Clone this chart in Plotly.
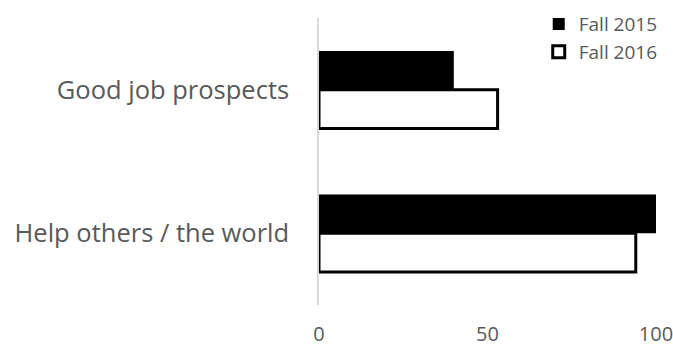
import plotly.graph_objects as go

categories = ["Good job prospects", "Help others / the world"]
fall_2015 = [40, 100]
fall_2016 = [53, 94]
x_ticks = [0, 50, 100]

FONT = "Open Sans"
GRAY = "#595959"

fig = go.Figure()
fig.add_trace(go.Bar(
    name="Fall 2015", y=categories, x=fall_2015, orientation="h",
    marker=dict(color="black", line=dict(color="black", width=0)),
))
fig.add_trace(go.Bar(
    name="Fall 2016", y=categories, x=fall_2016, orientation="h",
    marker=dict(color="white", line=dict(color="black", width=3)),
))

fig.update_layout(
    width=673, height=347,
    margin=dict(l=319, r=17, t=18, b=42, autoexpand=False),
    paper_bgcolor="white", plot_bgcolor="white",
    barmode="group", bargap=0.46, bargroupgap=0,
    font=dict(family=FONT, color=GRAY),
    showlegend=True,
    legend=dict(
        x=0.652, y=1.045, xanchor="left", yanchor="top",
        bgcolor="rgba(0,0,0,0)", font=dict(size=19, color=GRAY),
        itemwidth=30, tracegroupgap=0,
    ),
    xaxis=dict(
        range=[0, 100], tickvals=x_ticks, ticktext=[str(v) for v in x_ticks],
        showgrid=False, zeroline=False, showline=False,
        ticks="outside", ticklen=11, tickcolor="rgba(0,0,0,0)",
        tickfont=dict(size=20, color=GRAY),
        ticklabeloverflow="allow",
    ),
    yaxis=dict(
        categoryorder="array", categoryarray=categories, autorange="reversed",
        showgrid=False, zeroline=False,
        showline=True, linecolor="#D9D9D9", linewidth=1.5,
        ticks="outside", ticklen=23, tickcolor="rgba(0,0,0,0)",
        tickfont=dict(size=25.5, color=GRAY),
    ),
)

fig.write_html("out.html")
